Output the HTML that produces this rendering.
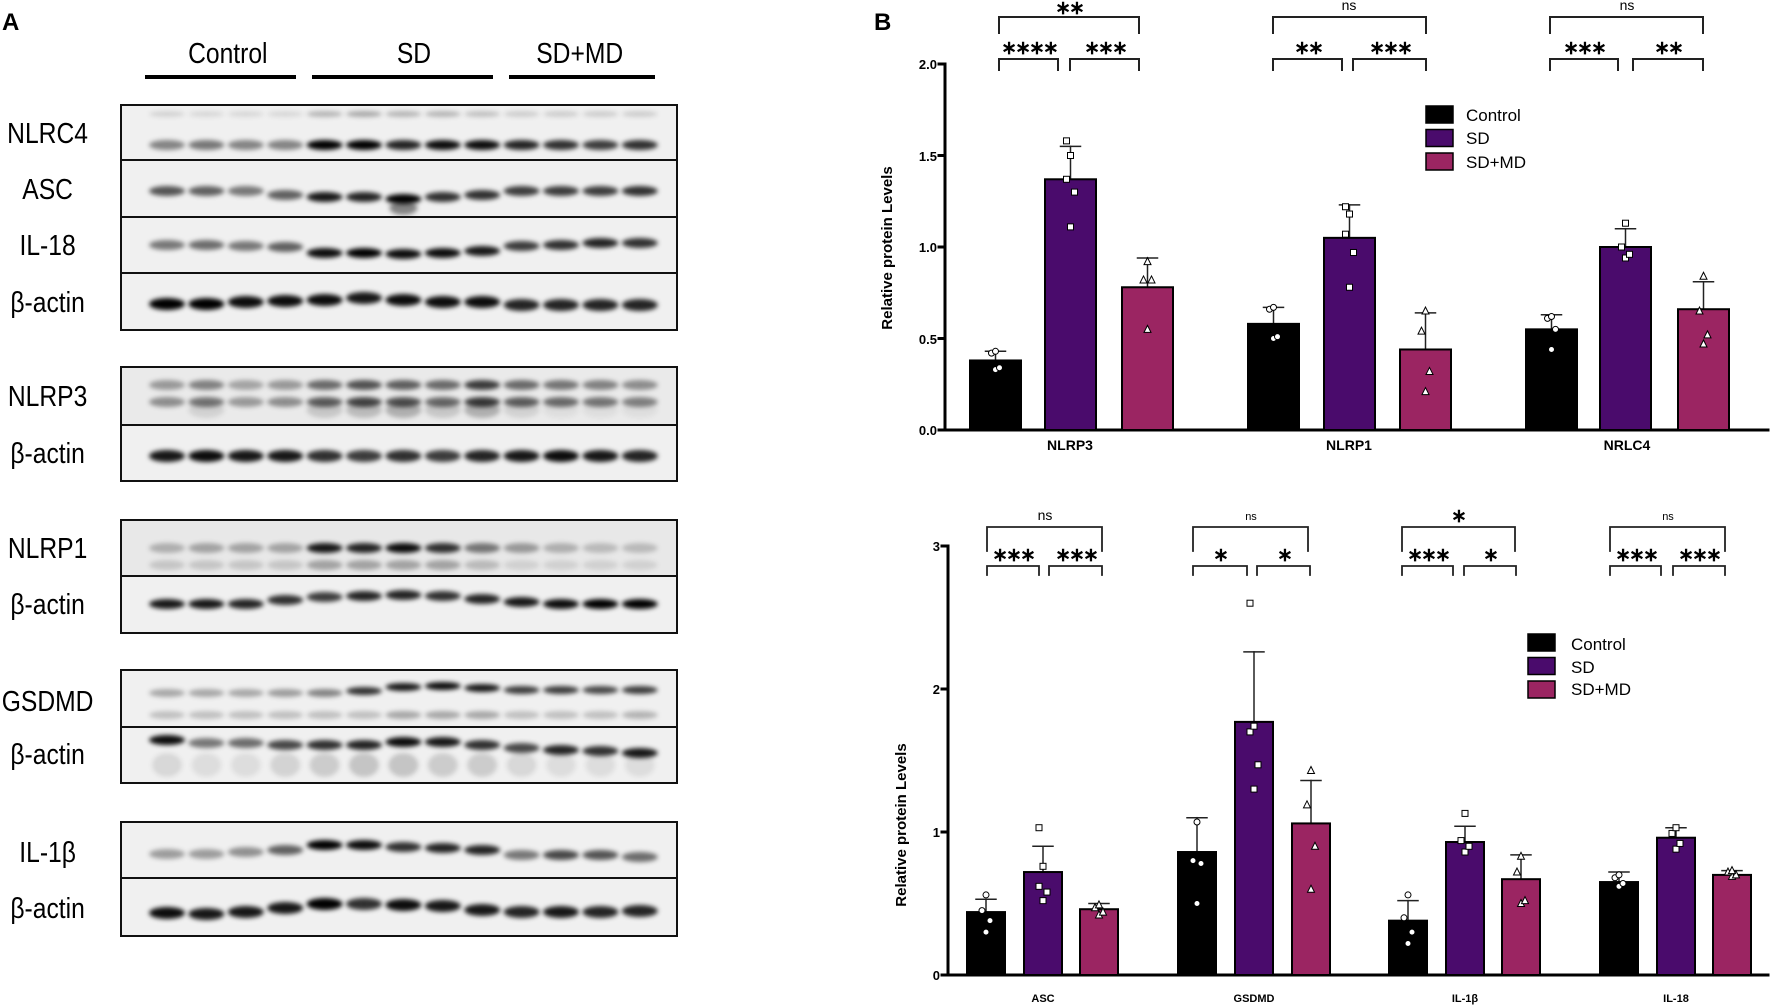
<!DOCTYPE html>
<html><head><meta charset="utf-8"><style>
html,body{margin:0;padding:0;background:#fff;width:1772px;height:1008px;overflow:hidden}
svg{display:block}
text{font-family:"Liberation Sans",sans-serif}
.st{font-family:"DejaVu Sans",sans-serif}
</style></head><body>
<svg id="s" width="1772" height="1008" viewBox="0 0 1772 1008" xmlns="http://www.w3.org/2000/svg">
<defs><filter id="b" x="-50%" y="-100%" width="200%" height="300%"><feGaussianBlur stdDeviation="2.4"/></filter></defs>
<g id="blots"></g>
<text x="2" y="30" font-size="24" font-weight="bold">A</text>
<g transform="scale(0.85,1)" font-size="29" text-anchor="middle">
<text x="268" y="63">Control</text>
<text x="487" y="63">SD</text>
<text x="682" y="63">SD+MD</text>
<text x="56" y="143">NLRC4</text><text x="56" y="199">ASC</text><text x="56" y="255">IL-18</text><text x="56" y="312">β-actin</text>
<text x="56" y="406">NLRP3</text><text x="56" y="463">β-actin</text>
<text x="56" y="558">NLRP1</text><text x="56" y="614">β-actin</text>
<text x="56" y="711">GSDMD</text><text x="56" y="764">β-actin</text>
<text x="56" y="862">IL-1β</text><text x="56" y="918">β-actin</text>
</g>
<rect x="145" y="75" width="151" height="4"/><rect x="312" y="75" width="181" height="4"/><rect x="509" y="75" width="146" height="4"/>
<text x="874" y="30" font-size="24" font-weight="bold">B</text>
<g id="charts" stroke-linecap="square"></g>
<g font-size="13" font-weight="bold" text-anchor="end">
<text x="937" y="69">2.0</text><text x="937" y="161">1.5</text><text x="937" y="252">1.0</text><text x="937" y="344">0.5</text><text x="937" y="435">0.0</text>
<text x="940" y="551">3</text><text x="940" y="694">2</text><text x="940" y="837">1</text><text x="940" y="980">0</text>
</g>
<text transform="translate(892,248) rotate(-90)" font-size="15" font-weight="bold" text-anchor="middle">Relative protein  Levels</text>
<text transform="translate(906,825) rotate(-90)" font-size="15" font-weight="bold" text-anchor="middle">Relative protein  Levels</text>
<g font-size="14" font-weight="bold" text-anchor="middle">
<text x="1070" y="450">NLRP3</text><text x="1349" y="450">NLRP1</text><text x="1627" y="450">NRLC4</text>
</g>
<g font-size="11" font-weight="bold" text-anchor="middle">
<text x="1043" y="1002">ASC</text><text x="1254" y="1002">GSDMD</text><text x="1465" y="1002">IL-1β</text><text x="1676" y="1002">IL-18</text>
</g>
<g font-size="17">
<text x="1466" y="121">Control</text><text x="1466" y="144">SD</text><text x="1466" y="168">SD+MD</text>
<text x="1571" y="650">Control</text><text x="1571" y="673">SD</text><text x="1571" y="695">SD+MD</text>
</g>
<g class="st" font-size="19" font-weight="bold" text-anchor="middle" letter-spacing="-2">
<text x="1069" y="14">∗∗</text><text x="1029" y="54">∗∗∗∗</text><text x="1105" y="54">∗∗∗</text>
<text x="1308" y="54">∗∗</text><text x="1390" y="54">∗∗∗</text>
<text x="1584" y="54">∗∗∗</text><text x="1668" y="54">∗∗</text>
<text x="1013" y="561">∗∗∗</text><text x="1076" y="561">∗∗∗</text>
<text x="1220" y="561">∗</text><text x="1284" y="561">∗</text>
<text x="1428" y="561">∗∗∗</text><text x="1490" y="561">∗</text>
<text x="1636" y="561">∗∗∗</text><text x="1699" y="561">∗∗∗</text>
<text x="1458" y="522">∗</text>
</g>
<g font-size="14" text-anchor="middle">
<text x="1349" y="10">ns</text><text x="1627" y="10">ns</text><text x="1045" y="520">ns</text>
</g>
<g font-size="11" text-anchor="middle"><text x="1251" y="520">ns</text><text x="1668" y="520">ns</text></g>
</svg>
<script>
var NS="http://www.w3.org/2000/svg";
function el(p,t,a){var e=document.createElementNS(NS,t);for(var k in a)e.setAttribute(k,a[k]);p.appendChild(e);return e;}
var B=document.getElementById('blots');
var lanes=[];for(var i=0;i<13;i++)lanes.push(167+i*39.4);
function blot(y0,y1,bands,bg){
 el(B,'rect',{x:121,y:y0,width:556,height:y1-y0,fill:bg||'#f0f0f0'});
 bands.forEach(function(bd){
  for(var i=0;i<13;i++){var v=bd.v[i];if(v<=0)continue;
   el(B,'ellipse',{cx:lanes[i],cy:(bd.y+(bd.dy?bd.dy[i]:0)),rx:bd.rx||18,ry:bd.ry||5,fill:'rgba(0,0,0,'+v+')',filter:'url(#b)'});}
 });
 el(B,'rect',{x:121,y:y0,width:556,height:y1-y0,fill:'none',stroke:'#111','stroke-width':2});
}
var C=[.45,.5,.45,.45],S=[1,1,.85,.95,.95],M=[.85,.8,.75,.8];
function g(a,b,c){return a.concat(b,c);}
blot(105,160,[{y:114,v:g([.12,.1,.1,.1],[.25,.3,.25,.25,.2],[.15,.15,.15,.15]),ry:3},{y:145,v:g(C,S,M)}]);
blot(160,217,[{y:191,v:g([.65,.6,.5,.6],[.9,.85,1,.8,.8],[.75,.75,.75,.8]),dy:[0,0,0,4,6,6,8,6,4,0,0,0,0]},{y:208,v:[0,0,0,0,0,0,.45,0,0,0,0,0,0],ry:7,rx:14}]);
blot(217,273,[{y:248,v:g([.5,.55,.5,.6],[.95,1,.95,.95,.9],[.75,.8,.85,.8]),dy:[-3,-3,-2,-1,5,5,6,5,3,-2,-3,-5,-5]}]);
blot(273,330,[{y:302,v:g([1,1,.95,.95],[.95,.9,.95,.95,.95],[.85,.85,.85,.85]),ry:6,dy:[2,2,0,-1,-2,-4,-2,0,0,3,3,3,3]}]);
blot(367,425,[{y:385,v:g([.35,.45,.3,.35],[.55,.65,.6,.55,.75],[.55,.5,.45,.4]),ry:5},{y:402,v:g([.4,.5,.35,.4],[.6,.7,.65,.55,.75],[.6,.55,.5,.45]),ry:5},{y:410,v:g([0,.1,0,0],[.15,.2,.25,.15,.25],[.1,.05,.05,.05]),ry:8}],'#eaeaea');
blot(425,481,[{y:456,v:g([.9,.95,.9,.9],[.8,.75,.8,.75,.85],[.9,.95,.9,.85]),ry:6}]);
blot(520,576,[{y:548,v:g([.25,.3,.3,.3],[.9,.85,.95,.8,.5],[.35,.25,.2,.2]),ry:5},{y:565,v:g([.15,.15,.15,.15],[.3,.3,.3,.3,.2],[.1,.1,.1,.1]),ry:5}],'#e8e8e8');
blot(576,633,[{y:604,v:g([.9,.9,.85,.8],[.75,.85,.85,.8,.85],[.9,.95,1,1]),ry:5,dy:[0,0,0,-4,-7,-8,-9,-8,-5,-2,0,0,0]}]);
blot(670,727,[{y:693,v:g([.3,.3,.3,.35],[.45,.8,.9,.95,.9],[.75,.75,.7,.75]),ry:4,dy:[0,0,0,0,0,-2,-6,-7,-5,-3,-3,-3,-3]},{y:715,v:g([.2,.2,.2,.2],[.2,.2,.3,.3,.3],[.2,.2,.2,.25]),ry:4}]);
blot(727,783,[{y:745,v:g([.95,.5,.55,.7],[.8,.85,.95,.9,.8],[.7,.85,.8,.9]),ry:5,dy:[-5,-2,-2,0,0,0,-3,-3,0,3,5,6,8]},{y:765,v:g([.1,.08,.08,.12],[.15,.18,.18,.15,.15],[.1,.08,.08,.08]),ry:12,rx:15}],'#f0f0f0');
blot(822,878,[{y:850,v:g([.35,.35,.4,.6],[1,.95,.8,.85,.85],[.5,.7,.65,.55]),ry:5,dy:[4,4,2,0,-5,-5,-3,-2,0,5,5,5,7]}]);
blot(878,936,[{y:908,v:g([.95,.9,.9,.9],[1,.8,.95,.9,.9],[.85,.9,.85,.85]),ry:6,dy:[5,6,4,0,-4,-4,-3,-2,2,4,4,4,3]}]);

var G=document.getElementById('charts');
var cols=['#000','#4a0b6c','#9b2562'];
function chart(ax,y0,ppu,xend,axTop,ticks,groups,bw,lw){
 el(G,'line',{x1:ax,y1:axTop,x2:ax,y2:y0,stroke:'#000','stroke-width':lw});
 el(G,'line',{x1:ax,y1:y0,x2:xend,y2:y0,stroke:'#000','stroke-width':lw});
 ticks.forEach(function(t){el(G,'line',{x1:ax-6,y1:y0-t*ppu,x2:ax,y2:y0-t*ppu,stroke:'#000','stroke-width':lw});});
 groups.forEach(function(gr){gr.x.forEach(function(x,i){
  var top=y0-gr.v[i]*ppu,et=y0-gr.e[i]*ppu,cx=x+bw/2;
  el(G,'line',{x1:cx,y1:top,x2:cx,y2:et,stroke:'#222','stroke-width':1.5});
  el(G,'line',{x1:cx-10,y1:et,x2:cx+10,y2:et,stroke:'#222','stroke-width':1.5});
  el(G,'rect',{x:x,y:top,width:bw,height:y0-top,fill:cols[i],stroke:'#000','stroke-width':2});
  gr.p[i].forEach(function(pv,k){var py=y0-pv*ppu,px=cx+(k%2?4:-4)*(k%3?1:0);
   if(i==0)el(G,'circle',{cx:px,cy:py,r:3,fill:'#fff',stroke:'#000','stroke-width':1});
   else if(i==1)el(G,'rect',{x:px-3,y:py-3,width:6,height:6,fill:'#fff',stroke:'#000','stroke-width':1});
   else el(G,'path',{d:'M'+px+' '+(py-4)+'L'+(px+3.5)+' '+(py+3)+'L'+(px-3.5)+' '+(py+3)+'Z',fill:'#fff',stroke:'#000','stroke-width':1});
  });
 });});
}
chart(945,430,183,1768,64,[0,0.5,1,1.5,2],[
 {x:[970,1045,1122],v:[.38,1.37,.78],e:[.43,1.55,.94],p:[[.33,.34,.42,.43],[1.11,1.3,1.37,1.5,1.58],[.55,.82,.82,.92]]},
 {x:[1248,1324,1400],v:[.58,1.05,.44],e:[.67,1.23,.64],p:[[.5,.51,.66,.67],[.78,.97,1.07,1.18,1.22],[.21,.32,.54,.65]]},
 {x:[1526,1600,1678],v:[.55,1.0,.66],e:[.63,1.10,.81],p:[[.44,.55,.61,.62],[.94,.96,1.0,1.13],[.47,.52,.65,.84]]}],51,3);
chart(948,975,143,1768,546,[0,1,2,3],[
 {x:[967,1024,1080],v:[.44,.72,.46],e:[.53,.90,.50],p:[[.3,.38,.45,.56],[.52,.58,.62,.76,1.03],[.42,.44,.47,.49]]},
 {x:[1178,1235,1292],v:[.86,1.77,1.06],e:[1.10,2.26,1.36],p:[[.5,.78,.8,1.07],[1.3,1.47,1.7,1.74,2.6],[.6,.9,1.19,1.43]]},
 {x:[1389,1446,1502],v:[.38,.93,.67],e:[.52,1.04,.84],p:[[.22,.3,.4,.56],[.86,.9,.94,1.13],[.5,.52,.72,.83]]},
 {x:[1600,1657,1713],v:[.65,.96,.70],e:[.72,1.03,.73],p:[[.62,.64,.68,.7],[.88,.92,.99,1.03],[.69,.7,.72,.73]]}],38,3);
[[1426,106],[1528,634]].forEach(function(L){for(var i=0;i<3;i++)el(G,'rect',{x:L[0],y:L[1]+i*23.5,width:27,height:17,fill:cols[i],stroke:'#000','stroke-width':1.5});});
function br(x1,x2,yt,yb,w){el(G,'path',{d:'M'+x1+' '+yb+'V'+yt+'H'+x2+'V'+yb,fill:'none',stroke:'#222','stroke-width':w||2});}
[[999,1139],[1273,1426],[1550,1703]].forEach(function(b){br(b[0],b[1],17,33);});
[[999,1058],[1070,1139],[1273,1342],[1353,1426],[1550,1618],[1633,1703]].forEach(function(b){br(b[0],b[1],59,70);});
[[987,1102],[1193,1308],[1402,1515],[1610,1725]].forEach(function(b){br(b[0],b[1],527,551,1.8);});
[[987,1039],[1049,1102],[1193,1247],[1257,1310],[1402,1453],[1464,1516],[1610,1661],[1673,1725]].forEach(function(b){br(b[0],b[1],566,575,1.8);});
</script>
</body></html>
